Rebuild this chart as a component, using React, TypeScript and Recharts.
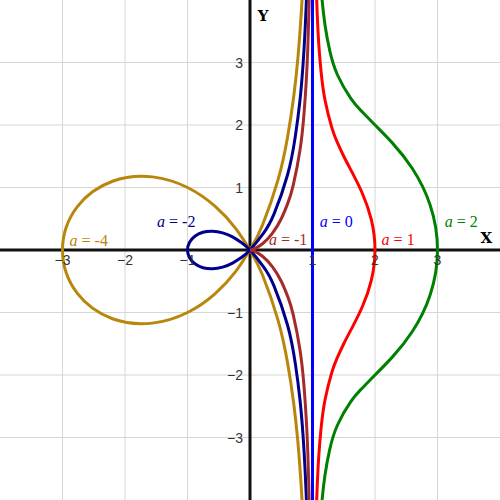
import React from 'react';
import { ComposedChart, Line, XAxis, YAxis, ReferenceLine, ReferenceDot } from 'recharts';

// conchoid family, points as [x, y]
const curveAm4 = [
  [0.872, -4.796], [0.846, -4.23], [0.81, -3.643], [0.765, -3.059], [0.698, -2.443], [0.6, -1.8],
  [0.448, -1.121], [0.2, -0.4], [0.015, -0.027], [-0.231, 0.346], [-0.561, 0.701], [-1, 1],
  [-1.56, 1.17], [-2.2, 1.1], [-2.765, 0.691], [-3, 0], [-2.765, -0.691], [-2.2, -1.1],
  [-1.56, -1.17], [-1, -1], [-0.561, -0.701], [-0.231, -0.346], [0.015, 0.027], [0.2, 0.4],
  [0.448, 1.121], [0.6, 1.8], [0.698, 2.443], [0.765, 3.059], [0.81, 3.643], [0.846, 4.23], [0.872, 4.796],
];

const curveAm2 = [
  [0.923, -4.615], [0.905, -4.07], [0.882, -3.529], [0.849, -2.972], [0.8, -2.4], [0.724, -1.81],
  [0.6, -1.2], [0.385, -0.577], [0.22, -0.274], [0, 0], [-0.133, 0.116], [-0.28, 0.21],
  [-0.438, 0.274], [-0.6, 0.3], [-0.753, 0.283], [-0.882, 0.221], [-0.969, 0.121], [-1, 0],
  [-0.969, -0.121], [-0.882, -0.221], [-0.753, -0.283], [-0.6, -0.3], [-0.438, -0.274],
  [-0.28, -0.21], [-0.133, -0.116], [0, 0], [0.22, 0.274], [0.385, 0.577], [0.6, 1.2],
  [0.724, 1.81], [0.8, 2.4], [0.849, 2.972], [0.882, 3.529], [0.905, 4.07], [0.923, 4.615],
];

const curveAm1Lower = [
  [0.962, -4.808], [0.953, -4.288], [0.941, -3.765], [0.925, -3.236], [0.9, -2.7], [0.862, -2.155],
  [0.8, -1.6], [0.692, -1.038], [0.61, -0.762], [0.5, -0.5], [0.36, -0.27], [0.2, -0.1],
  [0.059, -0.015], [0, 0],
];

const curveAm1Upper = [
  [0, 0], [0.059, 0.015], [0.2, 0.1], [0.36, 0.27], [0.5, 0.5], [0.61, 0.762], [0.692, 1.038],
  [0.8, 1.6], [0.862, 2.155], [0.9, 2.7], [0.925, 3.236], [0.941, 3.765], [0.953, 4.288], [0.962, 4.808],
];

const curveA0 = [[1, -4.5], [1, 4.5]];

const curveA1 = [
  [1.047, -4.712], [1.059, -4.235], [1.076, -3.764], [1.1, -3.3], [1.138, -2.845], [1.2, -2.4],
  [1.308, -1.962], [1.39, -1.738], [1.5, -1.5], [1.64, -1.23], [1.8, -0.9], [1.941, -0.485], [2, 0],
  [1.941, 0.485], [1.8, 0.9], [1.64, 1.23], [1.5, 1.5], [1.39, 1.738], [1.308, 1.962], [1.2, 2.4],
  [1.138, 2.845], [1.1, 3.3], [1.076, 3.764], [1.059, 4.235], [1.047, 4.712],
];

const curveA2 = [
  [1.118, -4.47], [1.151, -4.028], [1.2, -3.6], [1.276, -3.19], [1.4, -2.8], [1.615, -2.423],
  [1.78, -2.226], [2, -2], [2.28, -1.71], [2.6, -1.3], [2.882, -0.72], [3, 0], [2.882, 0.72],
  [2.6, 1.3], [2.28, 1.71], [2, 2], [1.78, 2.226], [1.615, 2.423], [1.4, 2.8], [1.276, 3.19],
  [1.2, 3.6], [1.151, 4.028], [1.118, 4.47],
];

const axisTicks = [-3, -2, -1, 1, 2, 3];

const series = [
  { key: 'am4', pts: curveAm4, color: '#b8860b', curve: 'natural' },
  { key: 'am2', pts: curveAm2, color: '#00008b', curve: 'natural' },
  { key: 'am1a', pts: curveAm1Lower, color: '#a52a2a', curve: 'natural' },
  { key: 'am1b', pts: curveAm1Upper, color: '#a52a2a', curve: 'natural' },
  { key: 'a0', pts: curveA0, color: '#0000ff', curve: 'linear' },
  { key: 'a1', pts: curveA1, color: '#ff0000', curve: 'natural' },
  { key: 'a2', pts: curveA2, color: '#008000', curve: 'natural' },
];

// curve labels: value of a, anchor in data units
const curveLabels = [
  { a: '-4', x: -2.58, y: 0.064, color: '#b8860b' },
  { a: '-2', x: -1.18, y: 0.37, color: '#00008b' },
  { a: '-1', x: 0.61, y: 0.08, color: '#a52a2a' },
  { a: '0', x: 1.38, y: 0.37, color: '#0000ff' },
  { a: '1', x: 2.37, y: 0.08, color: '#ff0000' },
  { a: '2', x: 3.38, y: 0.37, color: '#008000' },
];

const toRows = (pts: number[][]) => pts.map(([x, y]) => ({ x, y }));
const fmt = (v: number) => (v < 0 ? '\u2212' + Math.abs(v) : String(v));

const tickFont = { fontFamily: '"Liberation Sans", Arial, sans-serif', fontSize: 14, fill: '#333' };

export default function App() {
  return (
    <div style={{ position: 'absolute', left: 0, top: 0, width: 500, height: 500, background: '#fff' }}>
      <ComposedChart width={500} height={500} margin={{ top: 0, right: 0, bottom: 0, left: 0 }}>
        <XAxis type="number" dataKey="x" domain={[-4, 4]} allowDataOverflow hide />
        <YAxis type="number" domain={[-4, 4]} allowDataOverflow hide />

        {axisTicks.map((t) => (
          <ReferenceLine key={'gx' + t} x={t} stroke="#d6d6d6" strokeWidth={1} />
        ))}
        {axisTicks.map((t) => (
          <ReferenceLine key={'gy' + t} y={t} stroke="#d6d6d6" strokeWidth={1} />
        ))}
        <ReferenceLine x={0} stroke="#111" strokeWidth={3} />
        <ReferenceLine y={0} stroke="#111" strokeWidth={3} />

        {axisTicks.map((t) => (
          <ReferenceDot
            key={'tx' + t}
            x={t}
            y={0}
            r={0}
            shape={(p: any) => (
              <text x={p.cx} y={p.cy + 15} textAnchor="middle" {...tickFont}>
                {fmt(t)}
              </text>
            )}
          />
        ))}
        {axisTicks.map((t) => (
          <ReferenceDot
            key={'ty' + t}
            x={0}
            y={t}
            r={0}
            shape={(p: any) => (
              <text x={p.cx - 7} y={p.cy + 5} textAnchor="end" {...tickFont}>
                {fmt(t)}
              </text>
            )}
          />
        ))}

        {series.map((s) => (
          <Line
            key={s.key}
            data={toRows(s.pts)}
            dataKey="y"
            type={s.curve as any}
            stroke={s.color}
            strokeWidth={3}
            dot={false}
            activeDot={false}
            isAnimationActive={false}
          />
        ))}

        {curveLabels.map((l) => (
          <ReferenceDot
            key={'lab' + l.a}
            x={l.x}
            y={l.y}
            r={0}
            shape={(p: any) => (
              <text
                x={p.cx}
                y={p.cy}
                textAnchor="middle"
                fill={l.color}
                fontFamily='"Liberation Serif", "Times New Roman", serif'
                fontSize={16}
              >
                <tspan fontStyle="italic">a</tspan> = {l.a}
              </text>
            )}
          />
        ))}
        <ReferenceDot
          x={3.78}
          y={0.11}
          r={0}
          shape={(p: any) => (
            <text x={p.cx} y={p.cy} textAnchor="middle" fontFamily='"DejaVu Serif", serif' fontWeight="bold" fontSize={15} fill="#000">
              X
            </text>
          )}
        />
        <ReferenceDot
          x={0.21}
          y={3.66}
          r={0}
          shape={(p: any) => (
            <text x={p.cx} y={p.cy} textAnchor="middle" fontFamily='"DejaVu Serif", serif' fontWeight="bold" fontSize={15} fill="#000">
              Y
            </text>
          )}
        />
      </ComposedChart>
    </div>
  );
}
